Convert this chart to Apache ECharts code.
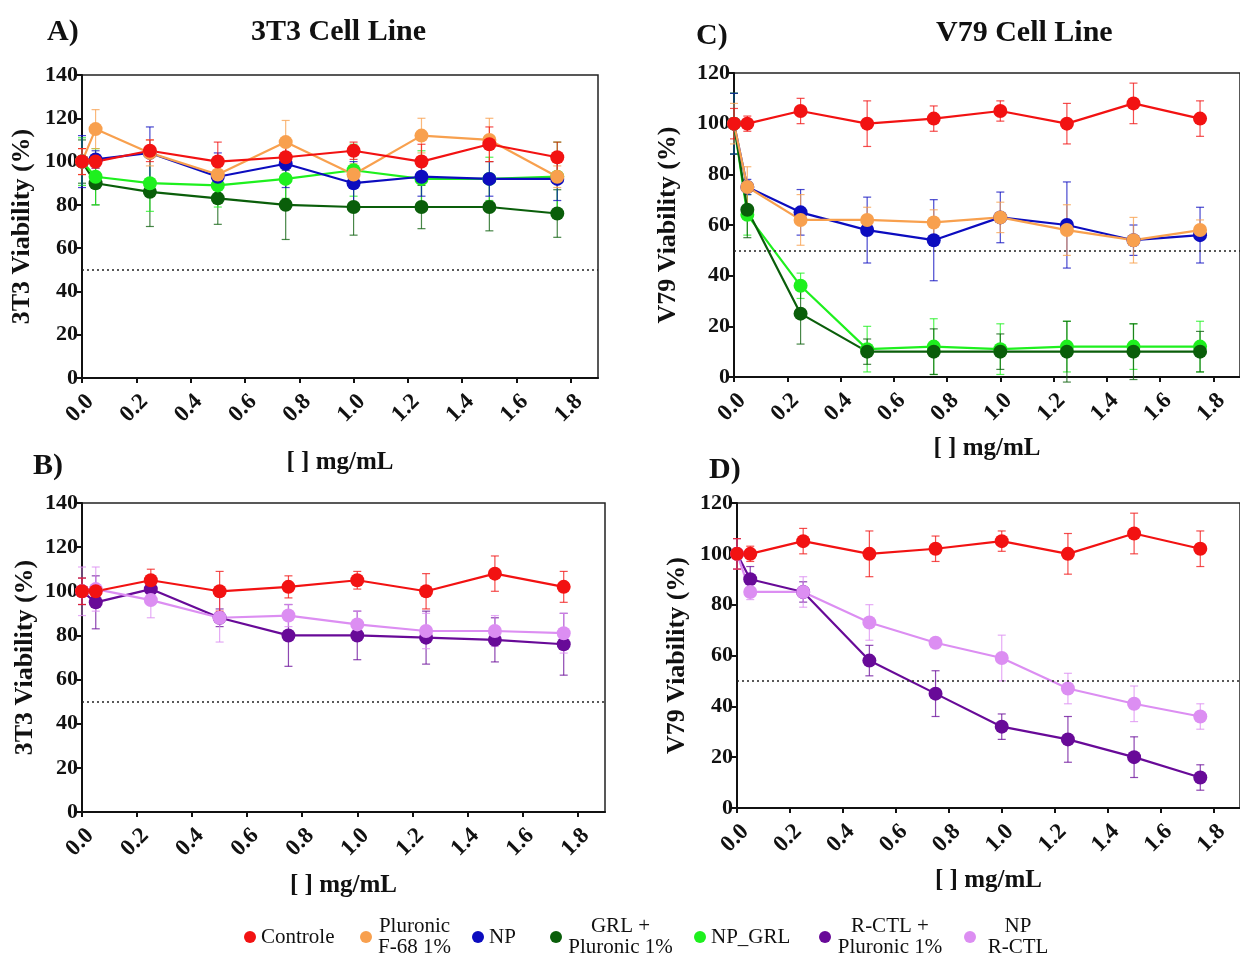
<!DOCTYPE html>
<html><head><meta charset="utf-8">
<script src="https://cdn.jsdelivr.net/npm/echarts@6/dist/echarts.min.js"></script>
<style>html,body{margin:0;padding:0;background:#fff}#c{width:1240px;height:955px}</style>
</head><body><div id="c"></div>
<script>
const conc = [0, 0.05, 0.25, 0.5, 0.75, 1.0, 1.25, 1.5, 1.75];
const xTicks = ['0.0','0.2','0.4','0.6','0.8','1.0','1.2','1.4','1.6','1.8'];
const seriesNames = ['Controle','Pluronic F-68 1%','NP','GRL + Pluronic 1%','NP_GRL','R-CTL + Pluronic 1%','NP R-CTL'];

const ctrl = [100,100,105,100,102,105,100,108,102];
const ctrlErr = [6,3,5,9,5,4,8,8,7];

// Panel A (3T3)
const a_plu = [100,115,104,94,109,94,112,110,93];
const a_pluErr = [6,9,6,5,10,5,8,10,5];
const a_np = [100,101,104,93,99,90,93,92,92];
const a_npErr = [12,4,12,11,11,10,9,8,10];
const a_grl = [100,90,86,83,80,79,79,79,76];
const a_grlErr = [10,10,16,12,16,13,10,11,11];
const a_ngrl = [100,93,90,89,92,96,92,92,93];
const a_ngrlErr = [11,13,13,10,9,12,13,10,16];

// Panel C (V79)
const c_plu = [100,75,62,62,61,63,58,54,58];
const c_pluErr = [8,8,10,5,5,6,10,9,4];
const c_np = [100,75,65,58,54,63,60,54,56];
const c_npErr = [12,3,9,13,16,10,17,6,11];
const c_grl = [100,66,25,10,10,10,10,10,10];
const c_grlErr = [12,11,12,5,9,7,12,11,8];
const c_ngrl = [100,64,36,11,12,11,12,12,12];
const c_ngrlErr = [12,8,5,9,11,10,10,9,10];

// Panel B (3T3)
const b_rctl = [100,95,101,88,80,80,79,78,76];
const b_rctlErr = [6,12,3,4,14,11,12,10,14];
const b_nrctl = [100,101,96,88,89,85,82,82,81];
const b_nrctlErr = [11,10,8,11,5,6,8,7,9];

// Panel D (V79)
const d_rctl = [100,90,85,58,45,32,27,20,12];
const d_rctlErr = [6,5,4,6,9,5,9,8,5];
const d_nrctl = [100,85,85,73,65,59,47,41,36];
const d_nrctlErr = [6,3,6,7,1,9,6,7,5];

const colors = {
  'Controle':'#f21212','Pluronic F-68 1%':'#f8a04e','NP':'#0c0cbf',
  'GRL + Pluronic 1%':'#0a5e0a','NP_GRL':'#1ef01e',
  'R-CTL + Pluronic 1%':'#680a98','NP R-CTL':'#dc8ef2'
};
const FONT = '"Liberation Serif", "Times New Roman", serif';

const grids = [
  {left:82, top:75, right:642, bottom:577},
  {left:82, top:503, right:635, bottom:143},
  {left:734, top:73, right:-7, bottom:578},
  {left:737, top:503, right:-8, bottom:147}
];
const yMax = [140,140,120,120];
const yNames = ['3T3 Viability (%)','3T3 Viability (%)','V79 Viability (%)','V79 Viability (%)'];
const yGaps = [47,44,53,47];
const xGaps = [72,61,59,60];
const tickVals = [0,0.2,0.4,0.6,0.8,1.0,1.2,1.4,1.6,1.8];

const xAxes = grids.map((g,i)=>({
  gridIndex:i, type:'value', min:0, max:1.9, interval:0.2,
  axisLine:{show:true,lineStyle:{color:'#111',width:2}},
  axisTick:{show:true,length:5,lineStyle:{color:'#111',width:2},customValues:tickVals},
  axisLabel:{rotate:45,fontFamily:FONT,fontWeight:'bold',fontSize:23,color:'#111',margin:12,
    verticalAlign:'top',
    customValues:tickVals,
    formatter:v=>xTicks[Math.round(v/0.2)]},
  splitLine:{show:false},
  name:'[ ] mg/mL', nameLocation:'middle', nameGap:xGaps[i],
  nameTextStyle:{fontFamily:FONT,fontWeight:'bold',fontSize:25,color:'#111',verticalAlign:'top'}
}));
const yAxes = grids.map((g,i)=>({
  gridIndex:i, type:'value', min:0, max:yMax[i], interval:20,
  axisLine:{show:true,lineStyle:{color:'#111',width:2}},
  axisTick:{show:true,length:5,lineStyle:{color:'#111',width:2}},
  axisLabel:{fontFamily:FONT,fontWeight:'bold',fontSize:22,color:'#111',margin:4},
  splitLine:{show:false},
  name:yNames[i], nameLocation:'middle', nameGap:yGaps[i],
  nameTextStyle:{fontFamily:FONT,fontWeight:'bold',fontSize:26,color:'#111'}
}));

const series = [];
function addSeries(gi, name, vals, errs, withRef){
  const col = colors[name];
  series.push({
    type:'custom', name:name, xAxisIndex:gi, yAxisIndex:gi, z:2, silent:true,
    data: conc.map((x,k)=>[x, vals[k]-errs[k], vals[k]+errs[k]]),
    renderItem:(params, api)=>{
      const x = api.value(0);
      const lo = api.coord([x, api.value(1)]);
      const hi = api.coord([x, api.value(2)]);
      const w = 4;
      const st = {stroke:col, lineWidth:1.2, opacity:0.75};
      return {type:'group', children:[
        {type:'line', shape:{x1:hi[0],y1:hi[1],x2:lo[0],y2:lo[1]}, style:st},
        {type:'line', shape:{x1:hi[0]-w,y1:hi[1],x2:hi[0]+w,y2:hi[1]}, style:st},
        {type:'line', shape:{x1:lo[0]-w,y1:lo[1],x2:lo[0]+w,y2:lo[1]}, style:st}
      ]};
    },
    itemStyle:{color:col}
  });
  const s = {
    type:'line', name:name, xAxisIndex:gi, yAxisIndex:gi, z:3,
    data: conc.map((x,k)=>[x, vals[k]]),
    symbol:'circle', symbolSize:14, showSymbol:true,
    lineStyle:{color:col, width:2.2}, itemStyle:{color:col},
    emphasis:{disabled:true}, animation:false
  };
  if (withRef) {
    s.markLine = {silent:true, symbol:'none', label:{show:false},
      lineStyle:{type:[2,3], color:'#222', width:1.5},
      data:[{yAxis:50}]};
  }
  series.push(s);
}
// A
addSeries(0,'GRL + Pluronic 1%',a_grl,a_grlErr,false);
addSeries(0,'NP_GRL',a_ngrl,a_ngrlErr,false);
addSeries(0,'NP',a_np,a_npErr,false);
addSeries(0,'Pluronic F-68 1%',a_plu,a_pluErr,false);
addSeries(0,'Controle',ctrl,ctrlErr,true);
// B
addSeries(1,'R-CTL + Pluronic 1%',b_rctl,b_rctlErr,false);
addSeries(1,'NP R-CTL',b_nrctl,b_nrctlErr,false);
addSeries(1,'Controle',ctrl,ctrlErr,true);
// C
addSeries(2,'NP_GRL',c_ngrl,c_ngrlErr,false);
addSeries(2,'GRL + Pluronic 1%',c_grl,c_grlErr,false);
addSeries(2,'NP',c_np,c_npErr,false);
addSeries(2,'Pluronic F-68 1%',c_plu,c_pluErr,false);
addSeries(2,'Controle',ctrl,ctrlErr,true);
// D
addSeries(3,'R-CTL + Pluronic 1%',d_rctl,d_rctlErr,false);
addSeries(3,'NP R-CTL',d_nrctl,d_nrctlErr,false);
addSeries(3,'Controle',ctrl,ctrlErr,true);

const legendLines = {
  'Controle':['Controle'],
  'Pluronic F-68 1%':['Pluronic','F-68 1%'],
  'NP':['NP'],
  'GRL + Pluronic 1%':['GRL +','Pluronic 1%'],
  'NP_GRL':['NP_GRL'],
  'R-CTL + Pluronic 1%':['R-CTL +','Pluronic 1%'],
  'NP R-CTL':['NP','R-CTL']
};
const legendW = {'Controle':79,'Pluronic F-68 1%':75,'NP':41,'GRL + Pluronic 1%':107,'NP_GRL':88,'R-CTL + Pluronic 1%':108,'NP R-CTL':74};
const legendAlign = {'Controle':'left','Pluronic F-68 1%':'center','NP':'left','GRL + Pluronic 1%':'center','NP_GRL':'left','R-CTL + Pluronic 1%':'center','NP R-CTL':'center'};
const rich = {};
seriesNames.forEach((n,i)=>{ rich['t'+i] = {fontFamily:FONT,fontSize:21,color:'#111',width:legendW[n],align:legendAlign[n],lineHeight:21}; });

const titleStyle = {fontFamily:FONT,fontWeight:'bold',fontSize:30,color:'#111'};
const option = {
  backgroundColor:'#fff',
  animation:false,
  title:[
    {text:'A)', left:42, top:12, textStyle:titleStyle},
    {text:'3T3 Cell Line', left:246, top:12, textStyle:titleStyle},
    {text:'B)', left:28, top:446, textStyle:titleStyle},
    {text:'C)', left:691, top:16, textStyle:titleStyle},
    {text:'V79 Cell Line', left:931, top:13, textStyle:titleStyle},
    {text:'D)', left:704, top:450, textStyle:titleStyle}
  ],
  grid: grids.map(g=>Object.assign({show:true,borderColor:'#222',borderWidth:1.5,backgroundColor:'transparent',containLabel:false},g)),
  xAxis:xAxes, yAxis:yAxes,
  legend:{
    data:seriesNames.map(n=>({name:n, icon:'circle', itemStyle:{color:colors[n]}})),
    left:239, top:911, itemWidth:12, itemHeight:12, itemGap:20, selectedMode:false,
    formatter:n=>{const i=seriesNames.indexOf(n); return legendLines[n].map(l=>'{t'+i+'|'+l+'}').join('\n');},
    textStyle:{fontFamily:FONT,fontSize:21,color:'#111',rich:rich}
  },
  series:series
};
const chart = echarts.init(document.getElementById('c'), null, {renderer:'canvas'});
chart.setOption(option);
</script>
</body></html>
